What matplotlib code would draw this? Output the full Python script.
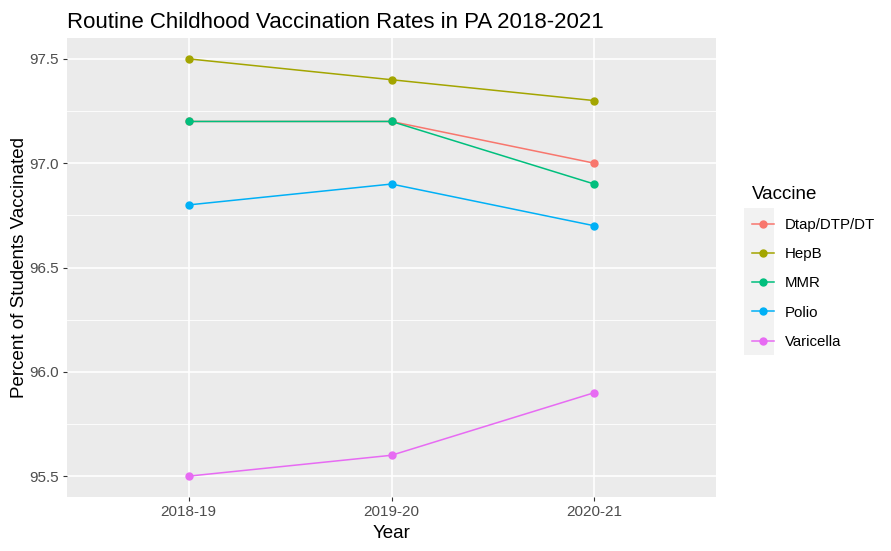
import matplotlib
matplotlib.use("Agg")
import matplotlib.pyplot as plt
from matplotlib.lines import Line2D
from matplotlib.patches import Rectangle
import numpy as np

plt.rcParams['font.family'] = ['Liberation Sans', 'DejaVu Sans']

years = ["2018-19", "2019-20", "2020-21"]
vaccines = ["Dtap/DTP/DT", "HepB", "MMR", "Polio", "Varicella"]
dtap = [97.2, 97.2, 97.0]
hepb = [97.5, 97.4, 97.3]
mmr = [97.2, 97.2, 96.9]
polio = [96.8, 96.9, 96.7]
varicella = [95.5, 95.6, 95.9]
colors = ["#F8766D", "#A3A500", "#00BF7D", "#00B0F6", "#E76BF3"]

series = [dtap, hepb, mmr, polio, varicella]

fig = plt.figure(figsize=(8.91, 5.51), dpi=100)
ax = fig.add_axes([67 / 891, 54 / 551, 649 / 891, 459 / 551])
ax.set_facecolor("#EBEBEB")

x = np.arange(1, len(years) + 1)
for vals, col in zip(series, colors):
    ax.plot(x, vals, color=col, lw=1.1, marker="o", ms=5, zorder=3)

ax.set_xlim(0.4, 3.6)
ax.set_ylim(95.4, 97.6)
ax.set_xticks(x)
ax.set_xticklabels(years)
ax.set_yticks([95.5, 96.0, 96.5, 97.0, 97.5])
ax.set_yticks([95.75, 96.25, 96.75, 97.25], minor=True)

ax.grid(which="major", color="white", lw=1.2)
ax.grid(which="minor", axis="y", color="white", lw=0.6)
ax.set_axisbelow(True)
for s in ax.spines.values():
    s.set_visible(False)
ax.tick_params(which="major", length=3, color="#333333", labelsize=11,
               labelcolor="#4D4D4D", pad=3)
ax.tick_params(which="minor", length=0)

ax.set_xlabel("Year", fontsize=13.5, labelpad=4)
ax.set_ylabel("Percent of Students Vaccinated", fontsize=13.5, labelpad=1)
ax.set_title("Routine Childhood Vaccination Rates in PA 2018-2021",
             fontsize=16, loc="left", pad=7)

# legend
fig.add_artist(Rectangle((744 / 891, 1 - 355 / 551), 30 / 891, 147 / 551,
                         transform=fig.transFigure, facecolor="#F2F2F2",
                         edgecolor="none", zorder=0))
handles = [Line2D([], [], color=c, lw=1.1, marker="o", ms=5) for c in colors]
leg = fig.legend(handles, vaccines, title="Vaccine", loc="upper left",
                 bbox_to_anchor=(738 / 891, 1 - 172 / 551), frameon=False,
                 fontsize=10.8, title_fontsize=13.5, handlelength=1.5,
                 labelspacing=1.02, handletextpad=0.7, borderpad=0.4)
leg._legend_box.align = "left"

fig.savefig("out.png", dpi=100)
